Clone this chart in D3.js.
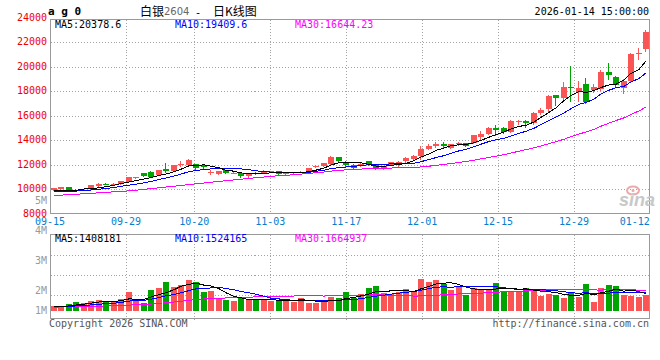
<!DOCTYPE html>
<html><head><meta charset="utf-8">
<script src="https://cdn.jsdelivr.net/npm/d3@7"></script>
<style>
body{margin:0;background:#fff}
svg{display:block}
text{font-family:"DejaVu Sans Mono",monospace;font-size:10px}
</style>
</head><body>
<svg id="c" width="660" height="360"></svg>
<script>
// ---------- data ----------
const dates = ["09-15","09-16","09-17","09-18","09-19","09-22","09-23","09-24","09-25","09-26","09-29","09-30",
"10-09","10-10","10-13","10-14","10-15","10-16","10-17","10-20","10-21","10-22","10-23","10-24","10-27","10-28","10-29","10-30","10-31",
"11-03","11-04","11-05","11-06","11-07","11-10","11-11","11-12","11-13","11-14","11-17","11-18","11-19","11-20","11-21","11-24","11-25","11-26","11-27","11-28",
"12-01","12-02","12-03","12-04","12-05","12-08","12-09","12-10","12-11","12-12","12-15","12-16","12-17","12-18","12-19","12-22","12-23","12-24","12-25","12-26","12-29","12-30","12-31",
"01-05","01-06","01-07","01-08","01-09","01-12","01-13","01-14"];
const opens  = [9900,10000,10170,9930,9920,9990,10240,10430,10400,10400,10590,10920,11290,11400,11160,11620,11490,12010,11990,12030,
11970,11350,11220,11560,11310,11290,11030,11330,11300,11410,11460,11260,11320,11380,11350,11850,11850,12070,12600,12160,
12000,11960,12300,12030,11660,11990,12000,12250,12450,12670,13270,13490,13700,13360,13680,13760,13760,14260,14500,15010,
15000,14640,15480,15530,15350,16170,16500,17640,17400,18350,17920,18540,18080,18140,19550,19170,18280,18820,20990,21420];
const highs  = [10110,10180,10180,9960,9960,10340,10470,10460,10470,10680,11000,11020,11330,11430,11570,12120,11990,12300,12420,12060,
12000,11560,11500,11580,11380,11310,11300,11370,11520,11500,11480,11320,11380,11460,11740,11950,12120,12700,12620,12300,
12010,12120,12320,12080,11850,12200,12270,12580,12800,13500,13700,13800,13800,13680,13800,13780,14420,14700,15080,15260,
15050,15600,15650,15650,16300,16650,17700,17700,18700,20050,18800,19100,18550,19700,20300,19250,18950,21100,21550,23000];
const lows   = [9880,9980,9870,9900,9900,9980,10230,10380,10370,10390,10580,10880,11030,10980,11150,11350,11470,11900,11970,11650,
11720,11240,11200,11280,11280,11020,11010,11250,11280,11350,11230,11240,11290,11350,11340,11800,11840,12020,12300,11880,
11730,11890,11950,11620,11640,11980,11900,12120,12400,12480,13250,13450,13420,13340,13620,13520,13740,14000,14480,14400,
14560,14620,15300,15100,15330,16150,16400,16850,17300,17200,17200,17000,17900,18120,19000,18400,17800,18700,20600,21300];
const closes = [10090,10160,9880,9920,9940,10330,10390,10400,10430,10660,10990,10960,11060,11000,11560,11490,11970,12070,12380,11680,
11760,11400,11480,11300,11340,11030,11290,11300,11500,11440,11250,11300,11350,11420,11730,11900,12110,12650,12310,11930,
11740,12060,11960,11680,11840,12190,12240,12570,12730,13300,13470,13670,13550,13670,13720,13540,14400,14520,14950,14800,
14640,15580,15590,15370,16210,16480,17630,17450,18340,18250,18210,17100,18310,19540,19340,18470,18810,21050,21140,22780];
// volume, in millions of lots
const volumes = [0.42,0.42,0.59,0.76,0.68,0.84,0.93,0.84,0.73,1.01,1.60,0.84,0.70,1.80,1.97,2.45,2.03,2.22,2.62,2.45,
1.60,1.71,1.01,0.93,0.87,1.07,0.93,0.93,0.93,0.87,0.93,0.93,0.79,1.12,0.70,0.65,0.73,1.21,1.07,1.60,
1.07,1.43,1.97,2.14,1.55,1.43,1.63,1.88,1.69,2.73,2.47,2.64,2.25,1.80,2.03,1.35,1.91,1.88,1.80,2.36,
1.71,1.71,1.63,1.94,1.80,1.29,1.43,1.35,1.12,1.49,1.21,2.28,0.76,1.94,2.19,2.11,1.35,1.27,1.21,1.38];
// moving averages before their windows fill
const ma5Head  = [9870,9875,9880,9890];
const ma10Head = [9760,9800,9815,9835,9855,9915,9980,10045,10115];
const ma30Head = [9463,9500,9535,9570,9610,9650,9690,9730,9770,9805,9845,9905,9970,10030,10095,10160,10225,10290,10355,10425,
10490,10555,10620,10680,10740,10800,10860,10920,10980];
const vma5Head  = [0.36,0.38,0.43,0.51];
const vma10Head = [0.36,0.36,0.39,0.43,0.46,0.51,0.57,0.62,0.66];
const vma30Head = [0.33,0.34,0.35,0.36,0.37,0.39,0.41,0.43,0.44,0.46,0.50,0.52,0.53,0.58,0.64,0.71,0.76,0.83,0.90,0.97,
1.02,1.06,1.08,1.10,1.12,1.15,1.17,1.19,1.21];
const priceTicks = [10000,12000,14000,16000,18000,20000,22000];
const priceLabels = [8000,10000,12000,14000,16000,18000,20000,22000,24000];
const dateTicks = ["09-15","09-29","10-20","11-03","11-17","12-01","12-15","12-29","01-12"];
const volLabels = [5,4,3,2,1];
const priceLegend = ["MA5:20378.6","MA10:19409.6","MA30:16644.23"];
const volLegend = ["MA5:1408181","MA10:1524165","MA30:1664937"];
const maColors = ["#000000","#0000ff","#ff00ff"];
const titleParts = ["白银", "2604", "-", "日K线图"];
const symbol = "a g 0";
const stamp = "2026-01-14 15:00:00";

// ---------- layout ----------
const UP = "#fa5454", DOWN = "#00a400", FRAME = "#9a9a9a", GRID = "#a4a4a4";
const svg = d3.select("#c");
const x = d3.scaleBand().domain(dates).range([50, 650]).paddingInner(0.2).paddingOuter(0.1);
const xp = d3.scalePoint().domain(dates).range([50, 650]);
const y = d3.scaleLinear().domain([8000, 24000]).range([213.5, 17.5]);
const yv = d3.scaleLinear().domain([0, 6.46]).range([311, 234.5]);
const volLabelY = d3.scaleLinear().domain([2, 5]).range([290.7, 200.7]);
const pTop = 19.5, pBot = 213.5, vTop = 234.5, vBot = 318.5, L = 50.5, R = 649.5;
const cx = d => Math.round(x(d));

function ma(vals, n, head) {
  return vals.map((v, i) => i < n - 1 ? head[i] : d3.mean(vals.slice(i - n + 1, i + 1)));
}
const rows = dates.map((d, i) => ({d, o: opens[i], h: highs[i], l: lows[i], c: closes[i], v: volumes[i]}));

// ---------- grid ----------
const grid = svg.append("g").attr("stroke", GRID).attr("stroke-dasharray", "1,2").attr("shape-rendering", "crispEdges");
grid.selectAll(".hg").data(priceTicks).join("line")
  .attr("x1", L).attr("x2", R).attr("y1", d => Math.round(y(d)) + 0.5).attr("y2", d => Math.round(y(d)) + 0.5);
const vx = dateTicks.slice(1, -1);
grid.selectAll(".vg").data(vx).join("line")
  .attr("x1", d => Math.round(xp(d)) + 0.5).attr("x2", d => Math.round(xp(d)) + 0.5)
  .attr("y1", pTop).attr("y2", pBot);
grid.selectAll(".vg2").data(vx).join("line")
  .attr("x1", d => Math.round(xp(d)) + 0.5).attr("x2", d => Math.round(xp(d)) + 0.5)
  .attr("y1", vTop).attr("y2", vBot + 3);
grid.selectAll(".vh").data([0, 1, 2]).join("line")
  .attr("x1", L).attr("x2", R)
  .attr("y1", k => vTop + 21 + k * 20).attr("y2", k => vTop + 21 + k * 20);

// ---------- frames ----------
const fr = svg.append("g").attr("stroke", FRAME).attr("fill", "none").attr("shape-rendering", "crispEdges");
fr.append("rect").attr("x", L).attr("y", pTop).attr("width", R - L).attr("height", pBot - pTop);
fr.append("rect").attr("x", L).attr("y", vTop).attr("width", R - L).attr("height", vBot - vTop);

// ---------- watermark ----------
const wm = svg.append("g");
wm.append("ellipse").attr("cx", 633).attr("cy", 190.5).attr("rx", 6).attr("ry", 4)
  .attr("fill", "none").attr("stroke", "#eeaaaa").attr("stroke-width", 2);
wm.append("circle").attr("cx", 633).attr("cy", 190.5).attr("r", 1.5).attr("fill", "#eeaaaa");
wm.append("text").attr("x", 619).attr("y", 206).text("sina")
  .style("font-family", "Liberation Sans, Arial, sans-serif").style("font-size", "18px")
  .style("font-style", "italic").style("font-weight", "bold").attr("fill", "#c8c8c8");

// ---------- candles ----------
const cg = svg.append("g").attr("shape-rendering", "crispEdges");
cg.selectAll(".wick").data(rows).join("line")
  .attr("x1", r => cx(r.d) + 2.5).attr("x2", r => cx(r.d) + 2.5)
  .attr("y1", r => Math.round(y(r.h))).attr("y2", r => Math.round(y(r.l)) + 1)
  .attr("stroke", r => r.c >= r.o ? UP : DOWN);
cg.selectAll(".body").data(rows).join("rect")
  .attr("x", r => cx(r.d)).attr("width", x.bandwidth())
  .attr("y", r => Math.round(y(Math.max(r.o, r.c))))
  .attr("height", r => Math.max(1, Math.round(y(Math.min(r.o, r.c))) - Math.round(y(Math.max(r.o, r.c)))))
  .attr("fill", r => r.c >= r.o ? UP : DOWN);

// ---------- volume bars ----------
svg.append("g").attr("shape-rendering", "crispEdges").selectAll("rect").data(rows).join("rect")
  .attr("x", r => cx(r.d)).attr("width", x.bandwidth())
  .attr("y", r => Math.round(yv(r.v))).attr("height", r => 311 - Math.round(yv(r.v)))
  .attr("fill", r => r.c >= r.o ? UP : DOWN);

// ---------- moving averages ----------
const pMA = [ma(closes, 5, ma5Head), ma(closes, 10, ma10Head), ma(closes, 30, ma30Head)];
const vMA = [ma(volumes, 5, vma5Head), ma(volumes, 10, vma10Head), ma(volumes, 30, vma30Head)];
const lineP = d3.line().x((v, i) => cx(dates[i]) + 3).y(v => y(v));
const lineV = d3.line().x((v, i) => cx(dates[i]) + 3).y(v => yv(v));
[2, 1, 0].forEach(k => {
  svg.append("path").attr("d", lineP(pMA[k])).attr("fill", "none").attr("stroke", maColors[k])
    .attr("stroke-width", 1).attr("shape-rendering", "crispEdges");
  svg.append("path").attr("d", lineV(vMA[k])).attr("fill", "none").attr("stroke", maColors[k])
    .attr("stroke-width", 1).attr("shape-rendering", "crispEdges");
});

// ---------- texts ----------
svg.append("g").selectAll("text").data(priceLabels).join("text")
  .attr("x", 47).attr("y", d => Math.round(y(d)) + 2.8).attr("text-anchor", "end")
  .attr("fill", "#ee0000").text(d => d);
svg.append("g").selectAll("text").data(volLabels).join("text")
  .attr("x", 47).attr("y", d => Math.min(310.7, volLabelY(d)) + 3.6).attr("text-anchor", "end")
  .attr("fill", "#9a9a9a").text(d => d + "M");
svg.append("g").selectAll("text").data(dateTicks).join("text")
  .attr("x", d => xp(d)).attr("y", 225.2).attr("text-anchor", "middle")
  .attr("fill", "#0a7ccc").text(d => d);
svg.append("g").selectAll("text").data(priceLegend).join("text")
  .attr("x", (d, i) => 55 + i * 120).attr("y", 27.6).attr("fill", (d, i) => maColors[i]).text(d => d);
svg.append("g").selectAll("text").data(volLegend).join("text")
  .attr("x", (d, i) => 55 + i * 120).attr("y", 241.9).attr("fill", (d, i) => maColors[i]).text(d => d);

svg.append("text").attr("x", 48).attr("y", 14.5).text(symbol)
  .style("font-size", "11px").style("font-weight", "bold").attr("fill", "#000");
const tg = svg.append("g");
tg.append("text").attr("x", 140).attr("y", 15.5).text(titleParts[0])
  .style("font-family", "Noto Sans CJK SC, sans-serif").style("font-size", "12px").attr("fill", "#000");
tg.append("text").attr("x", 164).attr("y", 15).text(titleParts[1])
  .style("font-family", "DejaVu Sans, sans-serif").style("font-size", "10px").attr("fill", "#666");
tg.append("text").attr("x", 198).attr("y", 15.5).attr("text-anchor", "middle").text(titleParts[2])
  .style("font-size", "11px").attr("fill", "#000");
tg.append("text").attr("x", 213).attr("y", 15.5).text(titleParts[3])
  .style("font-family", "Noto Sans CJK SC, sans-serif").style("font-size", "12px").attr("fill", "#000");
svg.append("text").attr("x", 649).attr("y", 15.3).attr("text-anchor", "end").attr("fill", "#000").text(stamp);
svg.append("text").attr("x", 49).attr("y", 327).attr("fill", "#555").text("Copyright 2026 SINA.COM");
svg.append("text").attr("x", 649).attr("y", 327).attr("text-anchor", "end").attr("fill", "#555").text("http://finance.sina.com.cn");
</script>
</body></html>
